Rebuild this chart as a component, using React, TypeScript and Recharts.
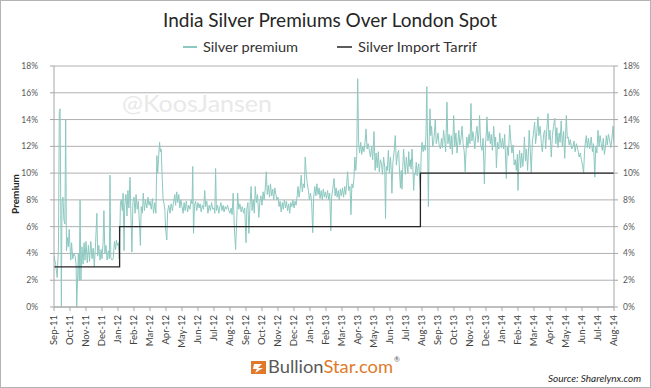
import React from 'react';
import { LineChart, Line, XAxis, YAxis, CartesianGrid } from 'recharts';

const monthLabels: string[] = [
  'Sep-11', 'Oct-11', 'Nov-11', 'Dec-11', 'Jan-12', 'Feb-12', 'Mar-12', 'Apr-12', 'May-12', 'Jun-12', 'Jul-12', 'Aug-12',
  'Sep-12', 'Oct-12', 'Nov-12', 'Dec-12', 'Jan-13', 'Feb-13', 'Mar-13', 'Apr-13', 'May-13', 'Jun-13', 'Jul-13', 'Aug-13',
  'Sep-13', 'Oct-13', 'Nov-13', 'Dec-13', 'Jan-14', 'Feb-14', 'Mar-14', 'Apr-14', 'May-14', 'Jun-14', 'Jul-14', 'Aug-14',
];
const monthTicks: number[] = [0, 1, 2, 3, 4, 5, 6, 7, 8, 9, 10, 11, 12, 13, 14, 15, 16, 17, 18, 19, 20, 21, 22, 23, 24, 25, 26, 27, 28, 29, 30, 31, 32, 33, 34, 35];
const yTicks: number[] = [0, 2, 4, 6, 8, 10, 12, 14, 16, 18];

// [month offset from Sep-11, premium %]
const premium: [number, number][] = [
  [0, 3.8], [0.1, 3.2], [0.2, 2.2], [0.28, 4.5], [0.33, 14.6], [0.38, 14.8], [0.43, 6], [0.46, 0], [0.5, 7.8], [0.56, 8.2], [0.62, 6.5], [0.68, 6.2], [0.73, 14.0], [0.78, 4.2], [0.85, 5.2], [0.9, 4.5], [0.95, 5.8],
  [1.0, 4.5], [1.05, 3.5], [1.1, 4.8], [1.17, 3.6], [1.25, 4.0], [1.32, 3.8], [1.38, 3.2], [1.42, 0], [1.47, 2.0], [1.52, 4.0], [1.58, 2.0], [1.63, 8.0], [1.68, 2.0], [1.75, 4.5], [1.82, 3.2], [1.88, 4.8], [1.94, 3.5],
  [2.0, 4.9], [2.08, 3.3], [2.15, 4.6], [2.22, 3.4], [2.3, 4.9], [2.38, 3.6], [2.45, 4.4], [2.52, 3.0], [2.6, 4.8], [2.68, 7.0], [2.73, 3.8], [2.8, 4.6], [2.88, 3.5], [2.95, 4.3],
  [3.0, 3.6], [3.07, 4.8], [3.12, 7.2], [3.18, 4.0], [3.25, 4.6], [3.32, 3.5], [3.4, 4.2], [3.46, 3.6], [3.5, 9.85], [3.55, 3.7], [3.62, 3.5], [3.7, 3.6], [3.78, 4.9], [3.85, 4.3], [3.9, 5.0], [3.96, 4.6], [4.02, 4.8], [4.08, 3.6],
  [4.1, 4.5], [4.15, 7.7], [4.2, 8.0], [4.27, 7.2], [4.32, 8.5], [4.38, 4.2], [4.42, 7.6], [4.5, 8.4], [4.56, 6.8], [4.62, 8.7], [4.68, 7.4], [4.75, 9.7], [4.8, 7.2], [4.87, 4.1], [4.93, 7.8],
  [5.0, 8.2], [5.07, 7.0], [5.13, 8.4], [5.2, 7.3], [5.27, 7.9], [5.33, 6.5], [5.4, 4.6], [5.45, 7.5], [5.52, 7.0], [5.58, 8.5], [5.65, 7.2], [5.72, 8.0], [5.8, 7.4], [5.87, 8.2], [5.94, 7.6],
  [6.0, 7.9], [6.08, 7.3], [6.15, 8.1], [6.22, 7.0], [6.3, 7.8], [6.37, 7.0], [6.43, 11.3], [6.48, 10.0], [6.53, 11.0], [6.6, 12.3], [6.65, 11.6], [6.7, 11.8], [6.76, 9.7], [6.82, 8.0], [6.88, 7.7], [6.93, 7.2], [6.98, 5.75],
  [7.05, 5.0], [7.1, 7.1], [7.17, 7.6], [7.25, 7.0], [7.32, 7.7], [7.4, 7.2], [7.48, 7.9], [7.55, 8.4], [7.6, 7.6], [7.67, 8.6], [7.73, 7.8], [7.8, 8.4], [7.87, 7.4], [7.93, 8.0],
  [8.0, 7.5], [8.07, 7.0], [8.13, 7.8], [8.2, 7.2], [8.27, 7.9], [8.35, 7.1], [8.42, 7.6], [8.5, 7.3], [8.57, 8.0], [8.63, 7.7], [8.67, 10.5], [8.72, 5.5], [8.78, 7.6], [8.85, 7.9], [8.92, 7.2],
  [9.0, 7.8], [9.07, 7.4], [9.13, 7.7], [9.2, 7.1], [9.27, 7.6], [9.35, 7.3], [9.42, 8.7], [9.48, 7.5], [9.55, 7.9], [9.62, 7.0], [9.7, 7.6], [9.77, 7.2], [9.85, 7.8], [9.92, 7.3],
  [10.0, 7.4], [10.05, 7.0], [10.1, 10.35], [10.15, 7.2], [10.22, 7.6], [10.3, 7.0], [10.37, 7.5], [10.43, 7.8], [10.5, 7.2], [10.57, 7.6], [10.63, 7.1], [10.7, 7.5], [10.77, 7.3], [10.85, 7.6], [10.92, 7.2],
  [11.0, 7.0], [11.07, 7.4], [11.13, 6.9], [11.2, 8.5], [11.27, 6.0], [11.35, 4.3], [11.42, 6.5], [11.48, 8.5], [11.55, 7.3], [11.62, 7.7], [11.7, 7.1], [11.77, 7.5], [11.85, 7.0], [11.92, 7.4],
  [12.0, 4.8], [12.05, 7.3], [12.12, 7.8], [12.18, 5.5], [12.25, 7.6], [12.32, 9.0], [12.38, 7.2], [12.45, 8.0], [12.52, 7.0], [12.58, 9.0], [12.65, 7.8], [12.72, 8.4], [12.8, 6.7], [12.87, 7.9], [12.93, 8.3],
  [13.0, 7.6], [13.07, 8.6], [13.13, 8.0], [13.2, 8.8], [13.27, 10.1], [13.33, 8.4], [13.4, 9.1], [13.47, 8.2], [13.53, 9.2], [13.6, 8.3], [13.67, 8.8], [13.73, 8.0], [13.8, 8.9], [13.87, 8.4], [13.93, 8.0],
  [14.0, 8.2], [14.07, 7.5], [14.13, 7.9], [14.2, 7.1], [14.27, 7.8], [14.33, 7.3], [14.4, 8.0], [14.47, 7.4], [14.53, 7.9], [14.6, 7.2], [14.67, 7.7], [14.73, 7.0], [14.8, 7.8], [14.87, 7.5], [14.93, 8.0],
  [15.0, 7.4], [15.07, 7.9], [15.13, 7.6], [15.2, 8.3], [15.25, 9.0], [15.32, 8.2], [15.38, 8.8], [15.45, 9.85], [15.52, 8.6], [15.58, 9.2], [15.65, 8.9], [15.7, 11.2], [15.77, 9.9], [15.83, 9.2], [15.9, 8.7], [15.96, 8.0],
  [16.03, 8.5], [16.1, 7.9], [16.17, 5.55], [16.23, 8.2], [16.3, 9.0], [16.37, 8.3], [16.43, 9.2], [16.5, 8.4], [16.57, 8.9], [16.63, 8.1], [16.7, 8.7], [16.77, 8.0], [16.83, 8.8], [16.9, 8.2], [16.96, 8.6],
  [17.03, 8.1], [17.1, 8.7], [17.17, 8.0], [17.23, 8.5], [17.3, 5.7], [17.35, 8.2], [17.42, 8.8], [17.5, 9.6], [17.57, 8.3], [17.63, 8.9], [17.7, 8.2], [17.77, 8.7], [17.83, 8.0], [17.9, 8.8], [17.96, 8.3],
  [18.03, 8.9], [18.1, 8.2], [18.17, 9.0], [18.23, 8.4], [18.3, 9.3], [18.35, 10.1], [18.42, 8.7], [18.5, 9.0], [18.56, 6.9], [18.62, 9.2], [18.68, 8.9], [18.75, 9.6], [18.8, 11.2], [18.86, 10.2], [18.92, 11.3], [18.98, 17.05],
  [19.04, 12.2], [19.1, 11.5], [19.17, 12.3], [19.23, 11.4], [19.3, 12.0], [19.37, 11.6], [19.45, 12.4], [19.5, 13.3], [19.57, 11.8], [19.63, 12.2], [19.71, 11.7], [19.78, 11.2], [19.85, 12.0], [19.92, 11.0], [20.0, 13.1],
  [20.07, 10.2], [20.13, 11.5], [20.2, 10.4], [20.27, 11.6], [20.33, 10.1], [20.4, 11.0], [20.47, 10.7], [20.53, 9.9], [20.6, 11.2], [20.67, 10.4], [20.72, 6.6], [20.77, 10.5], [20.83, 10.2], [20.9, 11.7], [20.96, 10.0],
  [21.03, 11.2], [21.08, 10.2], [21.12, 8.5], [21.18, 10.8], [21.25, 11.5], [21.33, 12.8], [21.4, 10.6], [21.47, 11.4], [21.54, 11.7], [21.6, 10.0], [21.65, 8.9], [21.7, 10.2], [21.75, 8.8], [21.8, 10.5], [21.85, 11.8], [21.91, 10.6],
  [21.96, 9.9], [22.02, 11.2], [22.06, 10.7], [22.12, 10.0], [22.17, 11.6], [22.22, 10.5], [22.27, 11.0], [22.32, 10.3], [22.375, 11.8], [22.43, 10.4], [22.48, 8.7], [22.53, 10.0], [22.58, 9.9], [22.64, 10.8], [22.7, 9.8], [22.75, 10.4], [22.8, 10.7], [22.86, 9.5], [22.9, 8.8],
  [22.95, 11.5], [23.0, 12.3], [23.07, 11.6], [23.13, 12.1], [23.2, 11.7], [23.25, 13.0], [23.3, 16.45], [23.35, 12.0], [23.4, 7.5], [23.45, 12.5], [23.5, 14.8], [23.55, 12.8], [23.6, 13.5], [23.67, 12.0], [23.73, 12.3], [23.78, 13.1], [23.83, 14.0], [23.89, 12.2], [23.94, 12.5],
  [24.0, 13.0], [24.07, 12.1], [24.15, 11.8], [24.22, 12.6], [24.28, 11.9], [24.35, 13.2], [24.42, 12.4], [24.48, 11.6], [24.56, 15.3], [24.62, 12.2], [24.7, 12.9], [24.77, 11.8], [24.83, 12.8], [24.9, 11.4], [24.98, 14.3],
  [25.05, 12.0], [25.12, 13.0], [25.19, 11.5], [25.25, 12.4], [25.3, 13.2], [25.37, 12.1], [25.44, 12.6], [25.5, 13.5], [25.57, 12.2], [25.64, 11.6], [25.7, 10.1], [25.76, 11.8], [25.8, 12.7], [25.87, 11.9], [25.94, 12.9],
  [26.0, 12.2], [26.06, 15.2], [26.12, 12.4], [26.18, 13.1], [26.23, 12.7], [26.3, 11.8], [26.37, 12.9], [26.44, 13.5], [26.5, 12.3], [26.56, 13.0], [26.6, 14.3], [26.67, 12.1], [26.75, 11.7], [26.82, 12.6], [26.9, 9.2], [26.96, 12.0],
  [27.02, 13.0], [27.06, 14.2], [27.12, 12.4], [27.2, 13.1], [27.27, 12.2], [27.33, 12.9], [27.4, 11.7], [27.48, 13.5], [27.55, 12.0], [27.6, 12.7], [27.65, 10.4], [27.72, 12.3], [27.8, 11.8], [27.86, 13.0], [27.9, 12.5], [27.96, 11.9],
  [28.03, 12.6], [28.1, 11.8], [28.17, 12.9], [28.22, 11.2], [28.27, 9.6], [28.33, 12.0], [28.4, 11.3], [28.48, 13.6], [28.55, 12.4], [28.62, 11.5], [28.69, 12.1], [28.76, 10.6], [28.83, 11.0], [28.9, 10.2], [28.96, 11.4],
  [29.0, 8.7], [29.05, 10.8], [29.1, 11.7], [29.17, 10.4], [29.23, 11.5], [29.3, 10.5], [29.35, 11.2], [29.4, 12.7], [29.47, 10.9], [29.53, 11.8], [29.6, 10.2], [29.65, 11.5], [29.7, 13.2], [29.77, 11.6], [29.83, 10.0], [29.9, 12.4], [29.96, 12.9],
  [30.04, 13.8], [30.1, 12.2], [30.17, 13.0], [30.25, 14.2], [30.3, 12.8], [30.38, 13.5], [30.46, 12.2], [30.52, 11.6], [30.6, 12.9], [30.67, 13.2], [30.73, 11.8], [30.8, 13.3], [30.875, 14.45], [30.94, 12.5],
  [31.0, 13.2], [31.08, 11.2], [31.15, 12.8], [31.22, 13.5], [31.3, 14.1], [31.37, 12.2], [31.43, 13.4], [31.5, 11.9], [31.57, 13.0], [31.63, 12.3], [31.7, 13.9], [31.77, 12.0], [31.85, 13.1], [31.92, 11.1],
  [32.02, 14.3], [32.08, 12.6], [32.13, 12.7], [32.2, 12.1], [32.27, 12.5], [32.35, 11.8], [32.44, 12.0], [32.5, 12.4], [32.57, 11.6], [32.65, 12.2], [32.75, 11.7], [32.82, 11.2], [32.9, 11.5], [32.96, 11.0],
  [33.03, 10.6], [33.1, 10.0], [33.15, 11.4], [33.2, 12.2], [33.27, 12.8], [33.33, 11.9], [33.4, 12.6], [33.48, 11.8], [33.53, 12.3], [33.58, 12.7], [33.65, 11.6], [33.72, 12.2], [33.8, 9.7], [33.86, 12.0], [33.93, 11.5],
  [34.0, 13.2], [34.07, 12.0], [34.13, 12.8], [34.2, 12.2], [34.27, 11.7], [34.33, 12.6], [34.4, 11.4], [34.47, 12.0], [34.52, 12.8], [34.58, 12.1], [34.65, 12.9], [34.73, 12.4], [34.8, 11.9], [34.87, 12.6], [34.94, 13.5], [35.0, 12.2],
];

// [month offset, tariff %]
const tariff: [number, number][] = [
  [0, 3], [4.1, 6], [22.9, 10], [35, 10],
];

const premiumData = premium.map(([m, v]) => ({ m, v }));
const tariffData = tariff.map(([m, t]) => ({ m, t }));

const FONT = 'Lato, "Open Sans", sans-serif';
const AXIS = '#a6a6a6';

function MonthTick(props: any) {
  const { x, y, payload } = props;
  return (
    <text
      x={x}
      y={y}
      transform={`rotate(-90 ${x} ${y})`}
      textAnchor="end"
      dy="0.35em"
      fontSize={9.5}
      fill="#404040"
      fontFamily={FONT}
    >
      {monthLabels[payload.value]}
    </text>
  );
}

export default function App() {
  return (
    <div style={{ position: 'absolute', left: 0, top: 0, width: 651, height: 388, background: '#fff' }}>
      <LineChart width={651} height={388} margin={{ top: 66, right: 0, bottom: 0, left: 0 }}>
        <CartesianGrid horizontal vertical={false} stroke="#b0b0b0" strokeWidth={1} />
        <XAxis
          type="number"
          dataKey="m"
          domain={[0, 35]}
          ticks={monthTicks}
          interval={0}
          height={81}
          tickSize={4}
          tickMargin={4}
          axisLine={{ stroke: AXIS }}
          tickLine={{ stroke: AXIS }}
          tick={<MonthTick />}
          allowDataOverflow
        />
        <YAxis
          type="number"
          domain={[0, 18]}
          ticks={yTicks}
          width={54}
          tickSize={4}
          tickMargin={12}
          axisLine={{ stroke: AXIS }}
          tickLine={{ stroke: AXIS }}
          tickFormatter={(v: number) => `${v}%`}
          tick={{ fontSize: 8.5, fill: '#595959', fontFamily: FONT }}
          allowDataOverflow
        />
        <YAxis
          yAxisId="r"
          orientation="right"
          type="number"
          domain={[0, 18]}
          ticks={yTicks}
          width={37}
          tickSize={4}
          tickMargin={5}
          axisLine={{ stroke: AXIS }}
          tickLine={{ stroke: AXIS }}
          tickFormatter={(v: number) => `${v}%`}
          tick={{ fontSize: 8.5, fill: '#595959', fontFamily: FONT, textAnchor: 'start' }}
          allowDataOverflow
        />
        <Line
          data={premiumData}
          dataKey="v"
          type="linear"
          stroke="#8cc8c0"
          strokeWidth={1}
          dot={false}
          isAnimationActive={false}
        />
        <Line
          data={tariffData}
          dataKey="t"
          yAxisId="r"
          type="stepAfter"
          stroke="#262626"
          strokeWidth={1.3}
          dot={false}
          isAnimationActive={false}
        />
      </LineChart>
      <svg
        width={651}
        height={388}
        style={{ position: 'absolute', left: 0, top: 0, pointerEvents: 'none' }}
      >
        <rect x={0.5} y={0.5} width={650} height={387} fill="none" stroke="#b4b4b4" />
        <text x={330} y={27} textAnchor="middle" fontSize={20} fill="#262626" fontFamily={FONT} textLength={334} lengthAdjust="spacingAndGlyphs">
          India Silver Premiums Over London Spot
        </text>
        <line x1={183} x2={197} y1={47} y2={47} stroke="#8cc8c0" strokeWidth={2} />
        <text x={203} y={52} fontSize={14} fill="#333" fontFamily={FONT} textLength={95} lengthAdjust="spacingAndGlyphs">
          Silver premium
        </text>
        <line x1={337} x2={352} y1={47} y2={47} stroke="#262626" strokeWidth={1.5} />
        <text x={358} y={52} fontSize={14} fill="#333" fontFamily={FONT} textLength={119} lengthAdjust="spacingAndGlyphs">
          Silver Import Tarrif
        </text>
        <text x={19} y={194} transform="rotate(-90 19 194)" textAnchor="middle" fontSize={10} fontWeight="bold" fill="#262626" fontFamily={FONT}>
          Premium
        </text>
        <text x={122} y={112} fontSize={24} fill="#e9e9e9" fontFamily={FONT} textLength={150} lengthAdjust="spacingAndGlyphs">
          @KoosJansen
        </text>
        <rect x={251} y={361} width={15} height={13} fill="#e07a2a" />
        <polygon points="254,364 262,364 258,368 263,368 255,373 257,369 253,369" fill="#fff" />
        <text x={268} y={373} fontSize={17} fontFamily={FONT} textLength={125} lengthAdjust="spacingAndGlyphs">
          <tspan fill="#595959">Bullion</tspan>
          <tspan fill="#e07a2a">Star.com</tspan>
        </text>
        <text x={394} y={362} fontSize={7} fill="#595959" fontFamily={FONT}>®</text>
        <text x={641} y={382} textAnchor="end" fontSize={10} fontStyle="italic" fill="#262626" fontFamily={FONT}>
          Source: Sharelynx.com
        </text>
      </svg>
    </div>
  );
}
